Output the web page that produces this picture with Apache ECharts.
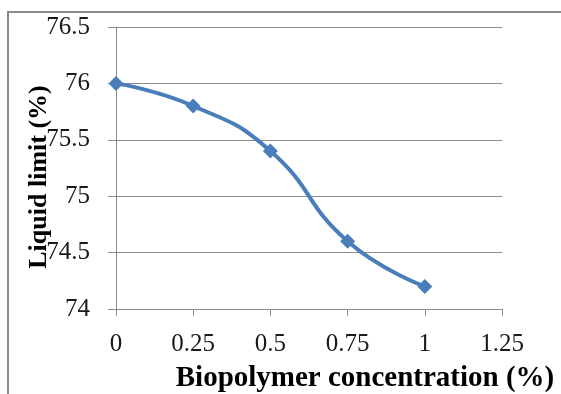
<!DOCTYPE html>
<html>
<head>
<meta charset="utf-8">
<style>
  html, body { margin: 0; padding: 0; background: #fff; }
  #chart { width: 561px; height: 394px; }
</style>
<script src="https://cdn.jsdelivr.net/npm/echarts@6/dist/echarts.min.js"></script>
</head>
<body>
<div id="chart"></div>
<script>
// Liquid limit versus biopolymer concentration
const concentration = [0, 0.25, 0.5, 0.75, 1];
const liquidLimit = [76, 75.8, 75.4, 74.6, 74.2];
const xTitle = 'Biopolymer concentration (%)';
const yTitle = 'Liquid limit (%)';

const serif = '"Liberation Serif", "Times New Roman", serif';
const gridColor = '#8c8c8c';
const lineColor = '#4a7ebb';

const chart = echarts.init(document.getElementById('chart'), null, { renderer: 'canvas' });

chart.setOption({
  animation: false,
  backgroundColor: '#ffffff',
  grid: { left: 116, right: 59, top: 27, bottom: 85, containLabel: false },
  xAxis: {
    type: 'value',
    min: 0, max: 1.25, interval: 0.25,
    axisLine: { show: true, onZero: false, lineStyle: { color: gridColor, width: 1 } },
    axisTick: { show: true, inside: false, length: 7, lineStyle: { color: gridColor } },
    axisLabel: { margin: 23, color: '#1a1a1a', fontFamily: serif, fontSize: 25 },
    splitLine: { show: false }
  },
  yAxis: {
    type: 'value',
    min: 74, max: 76.5, interval: 0.5,
    axisLine: { show: true, lineStyle: { color: gridColor, width: 1 } },
    axisTick: { show: true, inside: false, length: 8, lineStyle: { color: gridColor } },
    axisLabel: { margin: 26, color: '#1a1a1a', fontFamily: serif, fontSize: 25 },
    splitLine: { show: true, lineStyle: { color: gridColor, width: 1 } }
  },
  series: [{
    type: 'line',
    data: concentration.map((c, i) => [c, liquidLimit[i]]),
    smooth: 0.5,
    symbol: 'diamond',
    symbolSize: 15,
    showAllSymbol: true,
    lineStyle: { color: lineColor, width: 4 },
    itemStyle: { color: lineColor }
  }],
  graphic: [
    {
      type: 'rect',
      silent: true,
      shape: { x: 8, y: 12, width: 620, height: 420 },
      style: { fill: 'none', stroke: '#8a8a8a', lineWidth: 2 }
    },
    {
      type: 'text',
      x: 365, y: 379,
      style: {
        text: xTitle,
        font: 'bold 29px ' + serif,
        fill: '#000',
        align: 'center',
        verticalAlign: 'middle'
      }
    },
    {
      type: 'text',
      x: 39, y: 177,
      rotation: Math.PI / 2,
      style: {
        text: yTitle,
        font: 'bold 26px ' + serif,
        fill: '#000',
        align: 'center',
        verticalAlign: 'middle'
      }
    }
  ]
});
</script>
</body>
</html>
